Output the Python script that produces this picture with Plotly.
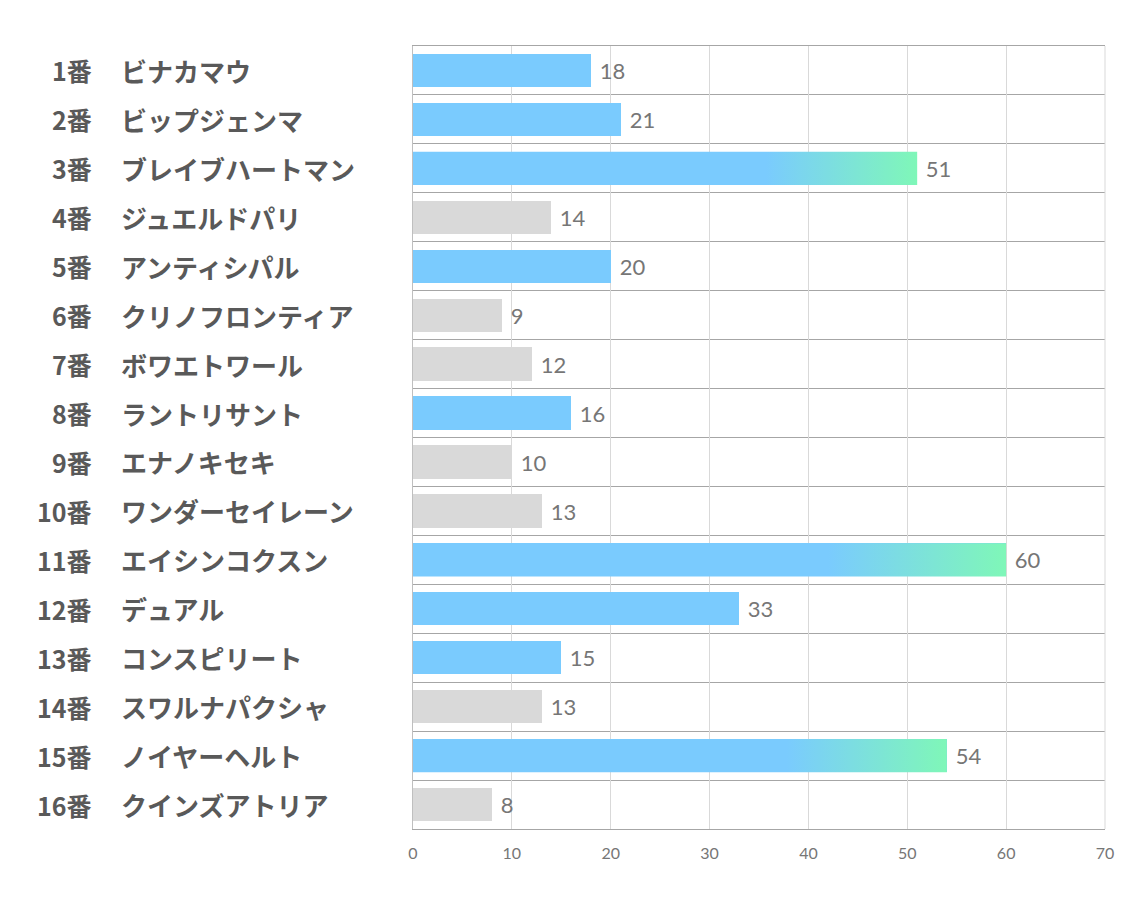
import plotly.graph_objects as go

# --- data -------------------------------------------------------------
numbers = ["1番", "2番", "3番", "4番", "5番", "6番", "7番", "8番",
           "9番", "10番", "11番", "12番", "13番", "14番", "15番", "16番"]
horses = ["ビナカマウ", "ビップジェンマ", "ブレイブハートマン", "ジュエルドパリ",
          "アンティシパル", "クリノフロンティア", "ボワエトワール", "ラントリサント",
          "エナノキセキ", "ワンダーセイレーン", "エイシンコクスン", "デュアル",
          "コンスピリート", "スワルナパクシャ", "ノイヤーヘルト", "クインズアトリア"]
values = [18, 21, 51, 14, 20, 9, 12, 16, 10, 13, 60, 33, 15, 13, 54, 8]
highlight = [True, True, True, False, True, False, False, True,
             False, False, True, True, True, False, True, False]
x_ticks = [0, 10, 20, 30, 40, 50, 60, 70]

# --- style ------------------------------------------------------------
BLUE = "#7ACBFE"
GREEN = "#7FF7B8"
GRAY = "#D9D9D9"
LABEL = "#595959"
VALUE = "#767676"
ROWLINE = "#A6A6A6"
BAR_W = 0.68
GRAD_FROM = 0.70  # gradient covers the last part of bars >= 50

pos = list(range(len(values)))
colors = [BLUE if h else GRAY for h in highlight]

fig = go.Figure()
fig.add_trace(go.Bar(
    x=values, y=pos, orientation="h",
    marker=dict(color=colors, line=dict(width=0)),
    width=BAR_W,
    text=[str(v) for v in values], texttemplate=" %{text}", textposition="outside",
    textfont=dict(family="Lato", size=22, color=VALUE),
    cliponaxis=False, hoverinfo="skip",
))

# gradient overlay on the big bars (covers whole bar, colour ramps at the tip)
for p, v in zip(pos, values):
    if v >= 50:
        h = BAR_W / 2
        fig.add_trace(go.Scatter(
            x=[0, v, v, 0, 0], y=[p - h, p - h, p + h, p + h, p - h],
            mode="none", fill="toself",
            fillgradient=dict(type="horizontal",
                              colorscale=[[0, BLUE], [GRAD_FROM, BLUE], [1, GREEN]]),
            showlegend=False, hoverinfo="skip",
        ))

# row labels: number right aligned, name left aligned
for p, n, name in zip(pos, numbers, horses):
    fig.add_annotation(x=-0.4615, y=p, xref="paper", yref="y", text=f"<b>{n}</b>",
                       xanchor="right", showarrow=False,
                       font=dict(family="Noto Sans CJK JP", size=25, color=LABEL))
    fig.add_annotation(x=-0.425, y=p, xref="paper", yref="y", text=f"<b>{name}</b>",
                       xanchor="left", showarrow=False,
                       font=dict(family="Noto Sans CJK JP", size=26, color=LABEL))

# right border of the plot area
fig.add_shape(type="line", xref="paper", yref="paper", x0=1, x1=1, y0=0, y1=1,
              line=dict(color="#D9D9D9", width=1))

fig.update_layout(
    width=1134, height=907,
    margin=dict(l=405, r=37, t=38, b=86),
    paper_bgcolor="white", plot_bgcolor="white",
    showlegend=False, bargap=0,
)
fig.update_xaxes(
    range=[0, 70], tickvals=x_ticks,
    showgrid=True, gridcolor="#D9D9D9", gridwidth=1,
    zeroline=False, showline=True, linecolor=ROWLINE, linewidth=1, mirror=True,
    tickfont=dict(family="Lato", size=16, color=VALUE),
    ticks="", ticklabelstandoff=10,
)
fig.update_yaxes(
    range=[len(values) - 0.5, -0.5],
    tickvals=pos, showticklabels=False, showgrid=False, zeroline=False,
    showline=True, linecolor="#BFBFBF", linewidth=1,
    minor=dict(tickvals=[p - 0.5 for p in pos] + [len(values) - 0.5],
               showgrid=True, gridcolor=ROWLINE, gridwidth=1),
)

fig.write_html("out.html")
